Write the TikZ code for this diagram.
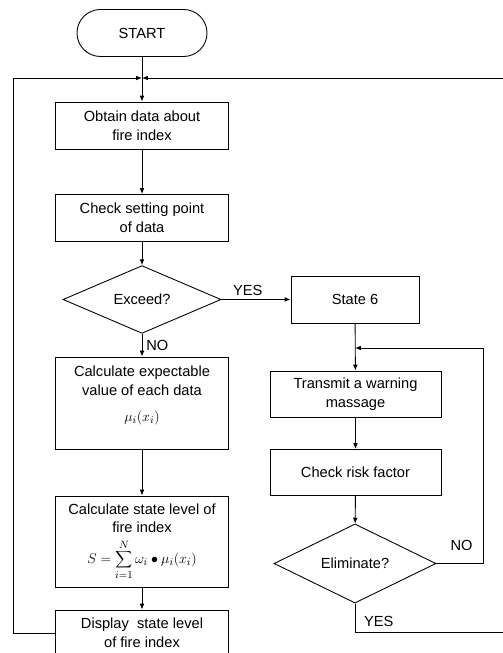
\documentclass[tikz,border=0pt]{standalone}
\usepackage{fontspec}
\setmainfont{Liberation Sans}
\usetikzlibrary{shapes.geometric,arrows.meta}
\begin{document}
\begin{tikzpicture}[x=0.03cm,y=-0.03cm,line width=0.75pt,
    font=\fontsize{12.5}{16}\selectfont,
    box/.style={draw,rectangle,align=center,inner sep=2pt,
      minimum width=5.19cm,minimum height=1.41cm},
    decision/.style={draw,diamond,inner sep=0pt,
      minimum width=4.74cm,minimum height=2.01cm},
    terminal/.style={draw,rounded corners=20pt,
      minimum width=3.9cm,minimum height=1.41cm},
    flow/.style={-{Latex[length=5pt,width=4pt]}}]
  \useasboundingbox (0,0) rectangle (502,653);
  % left column
  \node[terminal] (start) at (142,33) {START};
  \coordinate (junc) at (142,78);
  \node[box] (obtain) at (142,125.5) {Obtain data about\\fire index};
  \node[box] (check) at (142,218) {Check setting point\\of data};
  \node[decision] (exceed) at (142,299.5) {Exceed?};
  \node[box,minimum height=2.76cm] (expect) at (142,403)
    {Calculate expectable\\value of each data\\[6pt]$\mu_i(x_i)$\\ };
  \node[box,minimum height=2.73cm] (level) at (142,541.5)
    {Calculate state level of\\fire index\\[5pt]
     $\displaystyle S=\sum_{i=1}^{N}\omega_i\bullet\mu_i(x_i)$};
  \node[box,minimum height=1.38cm] (display) at (142,633)
    {Display~ state level\\of fire index};
  % right column
  \node[box,minimum width=3.84cm] (state) at (355,299.5) {State 6};
  \coordinate (junc2) at (355,348);
  \node[box,minimum width=5.13cm,minimum height=1.38cm] (transmit) at (355.5,394)
    {Transmit a warning\\massage};
  \node[box,minimum width=5.13cm,minimum height=1.38cm] (risk) at (355.5,472.5)
    {Check risk factor};
  \node[decision,minimum width=4.86cm,minimum height=2.07cm] (elim) at (355,563.5)
    {Eliminate?};
  \coordinate (loopL) at (13,78);
  \coordinate (loopN) at (483,348);
  \coordinate (loopR) at (515,632);

  \draw[flow] (start) -- (obtain);
  \draw[flow] (obtain) -- (check);
  \draw[flow] (check) -- (exceed);
  \draw[flow] (exceed) -- node[right]{NO} (expect);
  \draw[flow] (exceed) -- node[above,pos=0.38]{YES} (state);
  \draw[flow] (expect) -- (level);
  \draw[flow] (level) -- (display);
  \draw[flow] (display.west) -| (loopL) -- (junc);
  \draw[flow] (state) -- (transmit);
  \draw[flow] (transmit) -- (risk);
  \draw[flow] (risk) -- (elim);
  \draw[flow] (elim.east) -| node[above=7pt,pos=0.27]{NO} (loopN) -- (junc2);
  \draw[flow] (elim.south) |- node[right=4pt,pos=0.32]{YES} (loopR) |- (junc);
\end{tikzpicture}
\end{document}
